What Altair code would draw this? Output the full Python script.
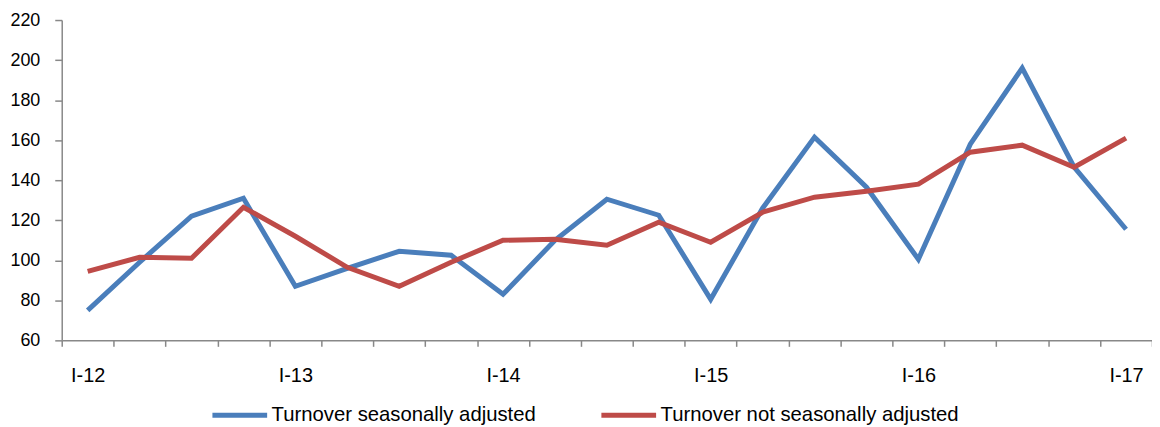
import json
import altair as alt
import pandas as pd

quarters = [
    "I-12", "II-12", "III-12", "IV-12",
    "I-13", "II-13", "III-13", "IV-13",
    "I-14", "II-14", "III-14", "IV-14",
    "I-15", "II-15", "III-15", "IV-15",
    "I-16", "II-16", "III-16", "IV-16",
    "I-17",
]
seasonally_adjusted = [
    75, 99, 122, 131, 87, 96, 104.5, 102.5, 83, 110, 130.5, 122.5,
    80.5, 126, 161.5, 136.5, 100.5, 158, 196, 146.5, 115.5,
]
not_seasonally_adjusted = [
    94.5, 101.5, 101, 126.5, 112, 96.5, 87, 99, 110, 110.5, 107.5, 119,
    109, 124, 131.5, 134.5, 138, 154, 157.5, 146.5, 161,
]
series_names = ["Turnover seasonally adjusted", "Turnover not seasonally adjusted"]
colors = ["#4A7EBB", "#BE4B48"]

rows = []
for i, q in enumerate(quarters):
    rows.append({"quarter": q, "series": series_names[0], "value": seasonally_adjusted[i], "idx": i})
    rows.append({"quarter": q, "series": series_names[1], "value": not_seasonally_adjusted[i], "idx": i})
df = pd.DataFrame(rows)

font = "Liberation Sans"
n = len(quarters)
xscale = alt.Scale(domain=[-0.5, n - 0.5], nice=False, zero=False)
yscale = alt.Scale(domain=[60, 220], nice=False, zero=False)
label_idx = [i for i, q in enumerate(quarters) if q.startswith("I-")]
tick_pos = [i - 0.5 for i in range(n + 1)]
label_lookup = json.dumps(quarters)

base = alt.Chart(df)

lines = base.mark_line(strokeWidth=5, strokeJoin="miter", strokeCap="butt").encode(
    x=alt.X(
        "idx:Q",
        scale=xscale,
        axis=alt.Axis(
            title=None,
            orient="bottom",
            values=tick_pos,
            labels=False,
            tickSize=6,
            tickColor="#888888",
            domainColor="#888888",
            domainWidth=1.5,
            tickWidth=1.5,
            grid=False,
        ),
    ),
    y=alt.Y(
        "value:Q",
        scale=yscale,
        axis=alt.Axis(
            title=None,
            orient="left",
            values=list(range(60, 221, 20)),
            tickSize=7,
            tickColor="#888888",
            domainColor="#888888",
            domainWidth=1.5,
            tickWidth=1.5,
            labelFont=font,
            labelFontSize=18,
            labelColor="#000000",
            labelPadding=15,
            grid=False,
        ),
    ),
    color=alt.Color(
        "series:N",
        sort=series_names,
        scale=alt.Scale(domain=series_names, range=colors),
        legend=alt.Legend(
            title=None,
            orient="none",
            direction="horizontal",
            legendX=149,
            legendY=367,
            symbolType="stroke",
            symbolSize=3025,
            symbolStrokeWidth=5,
            labelFont=font,
            labelFontSize=20.4,
            labelColor="#000000",
            labelOffset=2,
            columnPadding=55,
            labelLimit=400,
        ),
    ),
    detail="series:N",
    order="idx:Q",
)

label_layer = base.mark_point(opacity=0).encode(
    x=alt.X(
        "idx:Q",
        scale=xscale,
        axis=alt.Axis(
            title=None,
            orient="bottom",
            values=label_idx,
            ticks=False,
            domain=False,
            grid=False,
            labelFont=font,
            labelFontSize=20,
            labelColor="#000000",
            labelPadding=25,
            labelExpr=f"{label_lookup}[datum.value]",
        ),
    ),
)

chart = alt.layer(lines, label_layer).resolve_axis(x="independent").properties(
    width=1096,
    height=322,
    padding={"left": 54, "top": 11, "right": 0, "bottom": 86},
    autosize=alt.AutoSizeParams(type="none"),
).configure_view(stroke=None)

chart.save("out.html", embed_options={"renderer": "svg", "actions": False})
